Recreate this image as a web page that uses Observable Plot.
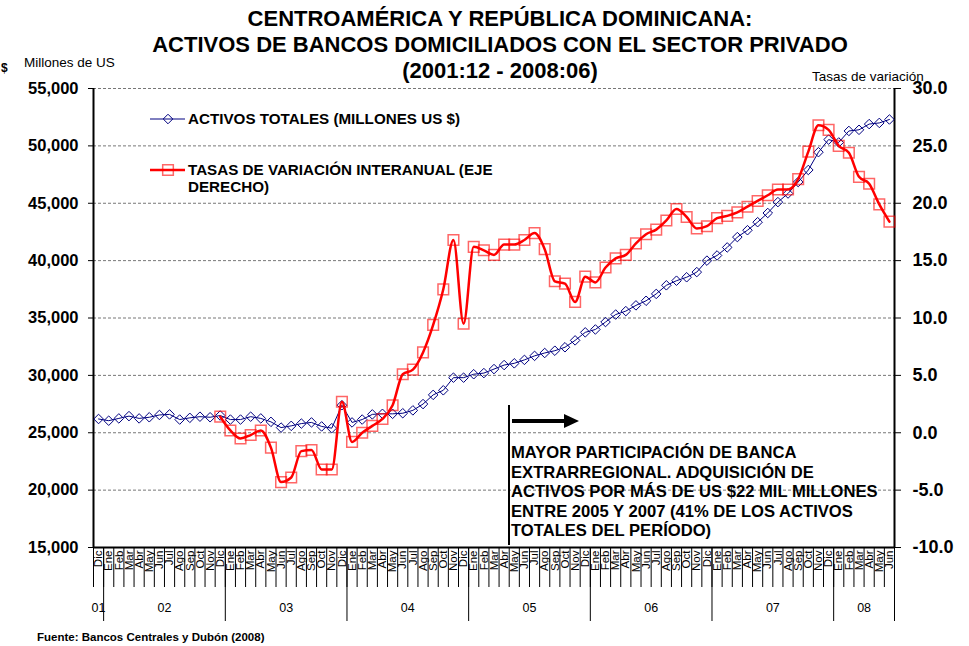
<!DOCTYPE html>
<html><head><meta charset="utf-8">
<script src="https://cdn.jsdelivr.net/npm/d3@7"></script>
<script src="https://cdn.jsdelivr.net/npm/@observablehq/plot@0.6"></script>
<style>
body{margin:0;background:#fff;}
#wrap{position:relative;width:969px;height:646px;}
</style></head><body><div id="wrap"></div>
<script>
// ---- data ----
const monthNames = ["Ene","Feb","Mar","Abr","May","Jun","Jul","Ago","Sep","Oct","Nov","Dic"];
const yearLabels = ["01","02","03","04","05","06","07","08"];
const startMonth = 12, startYear = 2001, nPeriods = 79; // 2001:12 .. 2008:06
// Activos totales (millones US$)
const activos = [26200,26050,26250,26450,26250,26350,26550,26600,26150,26300,26400,26350,
  26500,26150,26150,26400,26250,25950,25450,25600,25800,25900,25550,25400,
  27400,25900,26150,26600,26650,26650,26700,26950,27500,28300,28700,29800,
  29800,30100,30200,30550,30900,31050,31350,31700,31950,32150,32450,33050,
  33750,34000,34650,35300,35600,36100,36500,37100,37850,38250,38550,39000,
  40000,40450,41150,42050,42650,43350,44150,45100,45850,46850,47900,49450,
  50550,50300,51300,51400,51900,52000,52300];
// Tasas de variación interanual (%), from 2002:12
const tasas = [null,null,null,null,null,null,null,null,null,null,null,null,
  1.4,0.2,-0.5,-0.2,0.2,-1.3,-4.3,-3.9,-1.6,-1.5,-3.2,-3.2,
  2.7,-0.8,0.0,0.6,1.2,2.4,5.1,5.5,7.0,9.4,12.5,16.8,
  9.5,16.2,15.9,15.5,16.4,16.4,16.8,17.4,16.0,13.2,13.0,11.4,
  13.6,13.1,14.4,15.2,15.5,16.5,17.3,17.7,18.5,19.5,18.8,17.8,
  18.0,18.7,18.9,19.2,19.7,20.2,20.7,21.2,21.2,22.1,24.5,26.8,
  26.4,25.0,24.4,22.3,21.7,19.9,18.4];
const leftTicks = [15000,20000,25000,30000,35000,40000,45000,50000,55000];

// ---- derived tables ----
const periods = d3.range(nPeriods).map(i => {
  const m = (startMonth - 1 + i) % 12;
  const y = startYear + Math.floor((startMonth - 1 + i) / 12);
  return {i, month: monthNames[m], yi: y - startYear, activos: activos[i], tasa: tasas[i]};
});
const toLeft = p => 15000 + (p + 10) * 1000;   // right axis (-10..30) onto left scale
const redData = periods.filter(d => d.tasa != null);
const yearGroups = d3.groups(periods, d => d.yi).map(([yi, arr]) => ({
  label: yearLabels[yi], c: (arr[0].i + arr[arr.length-1].i) / 2,
  end: arr[arr.length-1].i + 0.5
}));
const monthBounds = d3.range(nPeriods + 1).map(i => i - 0.5);
const yearBounds = yearGroups.map(g => g.end);

const font = "'Liberation Sans', Arial, sans-serif";
const plot = Plot.plot({
  width: 969, height: 646,
  marginTop: 88, marginBottom: 99, marginLeft: 93, marginRight: 75,
  style: {fontFamily: font, fontSize: "12px", color: "black", background: "white", overflow: "visible"},
  x: {domain: [-0.5, nPeriods - 0.5], axis: null},
  y: {domain: [15000, 55000], axis: null},
  marks: [
    Plot.gridY(leftTicks.slice(1), {stroke: "#777", strokeOpacity: 1, strokeDasharray: "3,2"}),
    Plot.axisY(leftTicks, {anchor: "left", tickSize: 5, tickPadding: 10, tickFormat: d3.format(","),
      fontSize: 16.5, fontWeight: "bold", label: null}),
    Plot.axisY(leftTicks, {anchor: "right", tickSize: 6, tickPadding: 12,
      tickFormat: v => ((v - 15000) / 1000 - 10).toFixed(1), fontSize: 18, fontWeight: "bold", label: null}),
    // month cell ticks and year separators
    Plot.axisX(monthBounds, {anchor: "bottom", tickSize: 40, tickFormat: () => "", label: null}),
    Plot.axisX(yearBounds, {anchor: "bottom", tickSize: 74, tickFormat: () => "", label: null}),
    Plot.text(periods, {x: "i", text: "month", frameAnchor: "bottom", rotate: -90, textAnchor: "end",
      lineAnchor: "middle", dy: 3, fontSize: 11.5}),
    Plot.text(yearGroups, {x: "c", text: "label", frameAnchor: "bottom", dy: 60, lineAnchor: "middle", fontSize: 12.5}),
    // frame
    Plot.ruleX([-0.5, nPeriods - 0.5], {stroke: "black", strokeWidth: 2}),
    Plot.ruleY([15000], {stroke: "black", strokeWidth: 2}),
    // series
    Plot.line(periods, {x: "i", y: "activos", stroke: "#000080", strokeWidth: 1}),
    Plot.dot(periods, {x: "i", y: "activos", symbol: "diamond2", r: 4.3, stroke: "#000080", strokeWidth: 1, fill: "none"}),
    Plot.line(redData, {x: "i", y: d => toLeft(d.tasa), stroke: "#ff0000", strokeWidth: 2.5, curve: "monotone-x"}),
    Plot.dot(redData, {x: "i", y: d => toLeft(d.tasa), symbol: "square", r: 6, stroke: "#ff0000", strokeOpacity: 0.6, strokeWidth: 1.5, fill: "none"})
  ]
});
document.getElementById("wrap").appendChild(plot);

// ---- titles, legend, annotation ----
const svg = d3.select(plot);
const g = svg.append("g").attr("font-family", font).attr("fill", "black");
const T = (x, y, s, size, weight, anchor) => g.append("text").attr("x", x).attr("y", y).text(s)
  .attr("font-size", size).attr("font-weight", weight || "normal").attr("text-anchor", anchor || "start");
T(500, 26, "CENTROAMÉRICA Y REPÚBLICA DOMINICANA:", 22, "bold", "middle");
T(500, 52, "ACTIVOS DE BANCOS DOMICILIADOS CON EL SECTOR PRIVADO", 22, "bold", "middle");
T(500, 78, "(2001:12 - 2008:06)", 22, "bold", "middle");
T(24, 67, "Millones de US", 13.5);
T(1, 72, "$", 12, "bold");
T(812, 81, "Tasas de variación", 13.5);
T(37, 641, "Fuente: Bancos Centrales y Dubón (2008)", 11.5, "bold");

// legend
g.append("line").attr("x1", 150).attr("x2", 185).attr("y1", 119).attr("y2", 119).attr("stroke", "#000080");
g.append("path").attr("d", d3.symbol(d3.symbolDiamond2, Math.PI * 4.3 * 4.3)()).attr("transform", "translate(168,119)")
  .attr("fill", "none").attr("stroke", "#000080");
T(188, 124, "ACTIVOS TOTALES (MILLONES US $)", 15.2, "bold");
g.append("line").attr("x1", 150).attr("x2", 185).attr("y1", 170).attr("y2", 170).attr("stroke", "#ff0000").attr("stroke-width", 2.5);
g.append("path").attr("d", d3.symbol(d3.symbolSquare, Math.PI * 36)()).attr("transform", "translate(168,170)")
  .attr("fill", "none").attr("stroke", "#ff0000").attr("stroke-opacity", 0.6).attr("stroke-width", 1.5);
T(188, 175, "TASAS DE VARIACIÓN INTERANUAL (EJE", 15.2, "bold");
T(188, 192, "DERECHO)", 15.2, "bold");

// annotation
g.append("line").attr("x1", 509).attr("x2", 509).attr("y1", 405).attr("y2", 545).attr("stroke", "black").attr("stroke-width", 2);
g.append("line").attr("x1", 512).attr("x2", 566).attr("y1", 421).attr("y2", 421).attr("stroke", "black").attr("stroke-width", 4);
g.append("path").attr("d", "M564,414L579,421L564,428Z").attr("fill", "black");
const notes = ["MAYOR PARTICIPACIÓN DE BANCA", "EXTRARREGIONAL. ADQUISICIÓN DE",
  "ACTIVOS POR MÁS DE US $22 MIL MILLONES", "ENTRE 2005 Y 2007 (41% DE LOS ACTIVOS", "TOTALES DEL PERÍODO)"];
notes.forEach((s, k) => T(511, 458 + k * 19.5, s, 16.6, "bold"));
</script></body></html>
